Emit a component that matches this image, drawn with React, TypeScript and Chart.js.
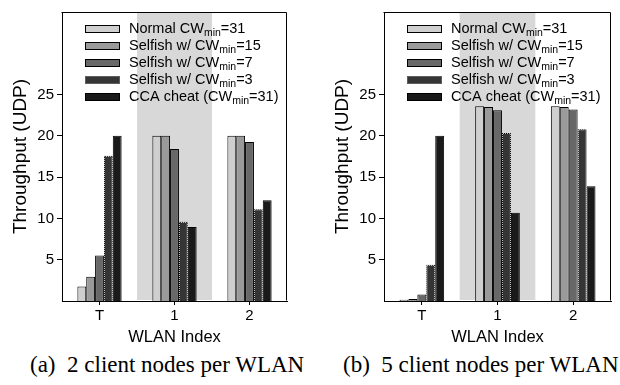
import React, { useEffect, useRef } from 'react';
import { Chart, registerables } from 'chart.js';

Chart.register(...registerables);

// ---------- data ----------
const categories = ['T', '1', '2'];
const shadedCategoryIndex = 1;
const yTicks = [5, 10, 15, 20, 25];
const yMin = 0;
const yMax = 35;

const seriesLabels = [
  'Normal CWmin=31',
  'Selfish w/ CWmin=15',
  'Selfish w/ CWmin=7',
  'Selfish w/ CWmin=3',
  'CCA cheat (CWmin=31)',
];
// legend text split as [before subscript, subscript, after subscript]
const legendParts: string[][] = [
  ['Normal CW', 'min', '=31'],
  ['Selfish w/ CW', 'min', '=15'],
  ['Selfish w/ CW', 'min', '=7'],
  ['Selfish w/ CW', 'min', '=3'],
  ['CCA cheat (CW', 'min', '=31)'],
];
const seriesColors = ['#cfcfcf', '#9a9a9a', '#686868', '#353535', '#1a1a1a'];

// (a) 2 client nodes per WLAN
const normalA = [1.75, 20, 20];
const selfish15A = [2.95, 20, 20];
const selfish7A = [5.5, 18.4, 19.25];
const selfish3A = [17.6, 9.6, 11.1];
const ccaA = [20, 8.95, 12.2];

// (b) 5 client nodes per WLAN
const normalB = [0.15, 23.6, 23.6];
const selfish15B = [0.25, 23.5, 23.5];
const selfish7B = [0.8, 23.1, 23.2];
const selfish3B = [4.4, 20.35, 20.8];
const ccaB = [20, 10.7, 13.9];

const xTitle = 'WLAN Index';
const yTitle = 'Throughput (UDP)';
const captionA = '(a)\u00a0 2 client nodes per WLAN';
const captionB = '(b)\u00a0 5 client nodes per WLAN';

const SANS = '"Liberation Sans", Arial, Helvetica, sans-serif';
const SERIF = '"Liberation Serif", "Times New Roman", serif';

// ---------- plugins ----------
const bandPlugin = {
  id: 'band',
  beforeDraw(chart: any) {
    const { ctx, chartArea } = chart;
    const xs = chart.scales.x;
    const c = xs.getPixelForValue(shadedCategoryIndex);
    const half = (xs.getPixelForValue(1) - xs.getPixelForValue(0)) / 2;
    ctx.save();
    ctx.fillStyle = '#d8d8d8';
    ctx.fillRect(c - half, chartArea.top, 2 * half, chartArea.bottom - chartArea.top - 1);
    ctx.restore();
  },
};

const dottedPlugin = {
  id: 'dotted',
  afterDatasetsDraw(chart: any) {
    const { ctx } = chart;
    const meta = chart.getDatasetMeta(3);
    ctx.save();
    ctx.strokeStyle = '#bdbdbd';
    ctx.lineWidth = 1;
    ctx.setLineDash([1, 1]);
    meta.data.forEach((el: any) => {
      const { x, y, base, width } = el.getProps(['x', 'y', 'base', 'width'], true);
      const l = Math.round(x - width / 2) + 0.5;
      const r = Math.round(x + width / 2) - 0.5;
      const t = Math.round(y) + 0.5;
      const b = Math.round(base);
      if (b - t < 2) return;
      ctx.beginPath();
      ctx.moveTo(l, b);
      ctx.lineTo(l, t);
      ctx.lineTo(r, t);
      ctx.lineTo(r, b);
      ctx.stroke();
    });
    ctx.restore();
  },
};

const legendPlugin = {
  id: 'subLegend',
  afterDatasetsDraw(chart: any) {
    const { ctx, chartArea } = chart;
    const x0 = chartArea.left + 23;
    ctx.save();
    legendParts.forEach((parts, i) => {
      const cy = chartArea.top + 16.5 + i * 17;
      const by = Math.round(cy - 4);
      ctx.fillStyle = seriesColors[i];
      ctx.fillRect(x0, by, 35, 8);
      ctx.strokeStyle = '#000';
      ctx.lineWidth = 1;
      ctx.setLineDash([]);
      ctx.strokeRect(x0 + 0.5, by + 0.5, 34, 7);
      if (i === 3) {
        ctx.strokeStyle = '#bdbdbd';
        ctx.setLineDash([1, 1]);
        ctx.strokeRect(x0 + 0.5, by + 0.5, 34, 7);
        ctx.setLineDash([]);
      }
      let tx = x0 + 44;
      ctx.fillStyle = '#000';
      ctx.textBaseline = 'middle';
      ctx.textAlign = 'left';
      ctx.font = `14.5px ${SANS}`;
      ctx.fillText(parts[0], tx, cy);
      tx += ctx.measureText(parts[0]).width;
      ctx.font = `10.5px ${SANS}`;
      ctx.fillText(parts[1], tx, cy + 4.5);
      tx += ctx.measureText(parts[1]).width;
      ctx.font = `14.5px ${SANS}`;
      ctx.fillText(parts[2], tx, cy);
    });
    ctx.restore();
  },
};

const framePlugin = {
  id: 'frame',
  afterDraw(chart: any) {
    const { ctx, chartArea } = chart;
    const l = Math.round(chartArea.left) - 0.5;
    const r = Math.round(chartArea.right) - 0.5;
    const t = Math.round(chartArea.top) + 0.5;
    const b = Math.round(chartArea.bottom) - 0.5;
    ctx.save();
    ctx.strokeStyle = '#000';
    ctx.lineWidth = 1;
    ctx.beginPath();
    ctx.moveTo(l, t);
    ctx.lineTo(r, t);
    ctx.lineTo(r, b);
    ctx.stroke();
    ctx.restore();
  },
};

function makeConfig(series: number[][], padLeft: number, padRight: number): any {
  return {
    type: 'bar',
    data: {
      labels: categories,
      datasets: series.map((d, i) => ({
        label: seriesLabels[i],
        data: d,
        backgroundColor: seriesColors[i],
        borderColor: '#000',
        borderWidth: 1,
        categoryPercentage: 0.59,
        barPercentage: 1,
      })),
    },
    options: {
      responsive: false,
      animation: false,
      layout: { padding: { left: padLeft, right: padRight, top: 9, bottom: 0 } },
      plugins: { legend: { display: false }, tooltip: { enabled: false } },
      scales: {
        x: {
          type: 'category',
          offset: true,
          grid: { offset: false, drawOnChartArea: false, drawTicks: true, tickLength: 4, color: '#000' },
          border: { display: true, color: '#000', width: 1 },
          ticks: { color: '#000', font: { family: SANS, size: 15 }, padding: 2, maxRotation: 0 },
          title: {
            display: true,
            text: xTitle,
            color: '#000',
            font: { family: SANS, size: 16.5 },
            padding: { top: 0, bottom: 3 },
          },
          afterFit: (s: any) => {
            s.height = 49;
          },
        },
        y: {
          min: yMin,
          max: yMax,
          afterBuildTicks: (s: any) => {
            s.ticks = yTicks.map((v) => ({ value: v }));
          },
          grid: { drawOnChartArea: false, drawTicks: true, tickLength: 5, color: '#000' },
          border: { display: true, color: '#000', width: 1 },
          ticks: { color: '#000', font: { family: SANS, size: 15 }, padding: 3 },
          title: {
            display: true,
            text: yTitle,
            color: '#000',
            font: { family: SANS, size: 19 },
            padding: { top: 9, bottom: 0 },
          },
          afterFit: (s: any) => {
            s.width = 62;
          },
        },
      },
    },
    plugins: [bandPlugin, dottedPlugin, legendPlugin, framePlugin],
  };
}

function Panel({ series, padLeft, padRight }: { series: number[][]; padLeft: number; padRight: number }) {
  const ref = useRef<HTMLCanvasElement | null>(null);
  useEffect(() => {
    if (!ref.current) return;
    const chart = new Chart(ref.current, makeConfig(series, padLeft, padRight));
    return () => chart.destroy();
  }, []);
  return <canvas ref={ref} width={310} height={350} style={{ display: 'block', width: 310, height: 350 }} />;
}

export default function App() {
  const captionStyle: React.CSSProperties = {
    position: 'absolute',
    top: 352,
    fontFamily: SERIF,
    fontSize: 23,
    lineHeight: '26px',
    color: '#000',
    whiteSpace: 'nowrap',
  };
  return (
    <div style={{ position: 'fixed', left: 0, top: 0, width: 620, height: 385, background: '#fff', overflow: 'hidden' }}>
      <div style={{ position: 'absolute', left: 0, top: 0 }}>
        <Panel series={[normalA, selfish15A, selfish7A, selfish3A, ccaA]} padLeft={0} padRight={23} />
      </div>
      <div style={{ position: 'absolute', left: 310, top: 0 }}>
        <Panel series={[normalB, selfish15B, selfish7B, selfish3B, ccaB]} padLeft={12} padRight={9} />
      </div>
      <div style={{ ...captionStyle, left: 30 }}>{captionA}</div>
      <div style={{ ...captionStyle, left: 343 }}>{captionB}</div>
    </div>
  );
}
